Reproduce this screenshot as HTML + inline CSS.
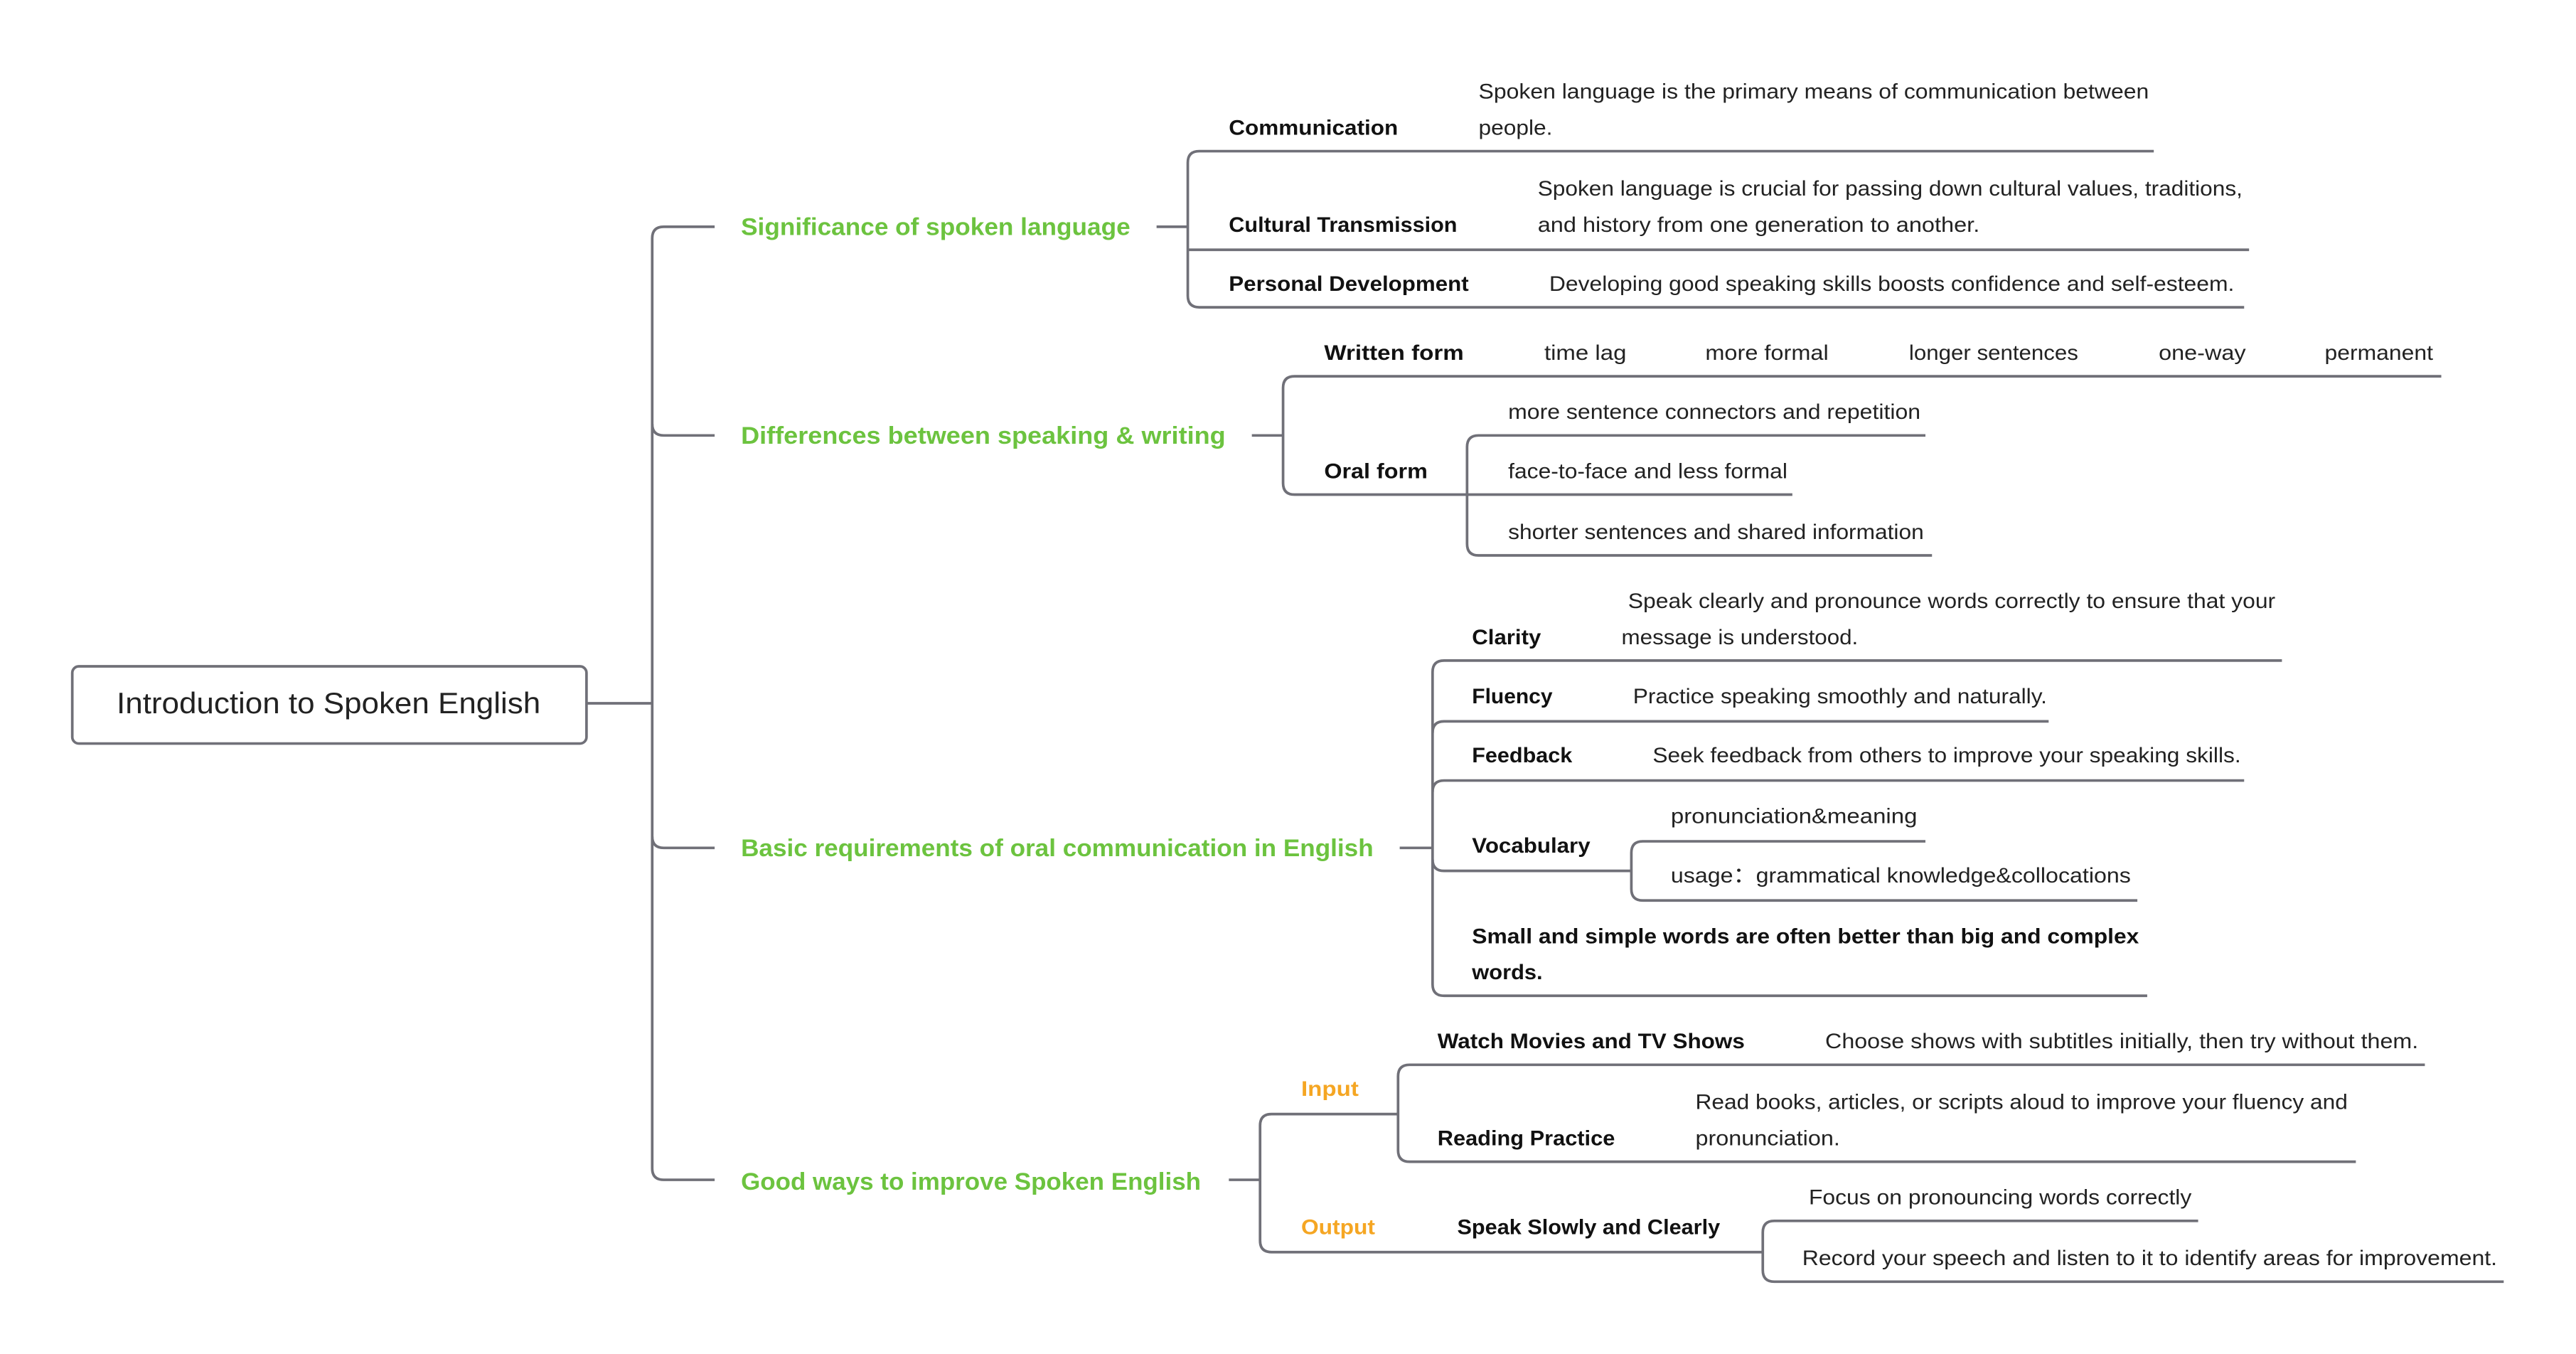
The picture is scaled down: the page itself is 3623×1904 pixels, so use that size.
<!DOCTYPE html>
<html><head><meta charset="utf-8">
<style>
html,body{margin:0;padding:0;background:#fff;}
svg{display:block;}
text{font-family:"Liberation Sans","Noto Sans CJK SC",sans-serif;font-size:13px;fill:#222;}
.b{font-weight:bold;fill:#111;}
.g{font-weight:bold;fill:#6cc33f;font-size:15px;}
.o{font-weight:bold;fill:#f5a623;}
path,line{stroke:#707078;stroke-width:1.6;fill:none;}
</style></head>
<body>
<svg width="3623" height="1904" viewBox="0 0 1568 824" preserveAspectRatio="none" xmlns="http://www.w3.org/2000/svg">
<rect x="44" y="405.5" width="313" height="47" rx="4" ry="4" style="fill:#fff;stroke:#707078;stroke-width:1.6"/>
<text x="71" y="434" textLength="258" lengthAdjust="spacingAndGlyphs" style="font-size:18px;fill:#222">Introduction to Spoken English</text>
<line x1="357" y1="428" x2="397" y2="428"/>
<path d="M435,138 L404,138 Q397,138 397,145 L397,711 Q397,718 404,718 L435,718"/>
<path d="M397,258 Q397,265 404,265 L435,265"/>
<path d="M397,509 Q397,516 404,516 L435,516"/>
<text class="g" x="451" y="143" textLength="237" lengthAdjust="spacingAndGlyphs">Significance of spoken language</text>
<text class="g" x="451" y="270" textLength="295" lengthAdjust="spacingAndGlyphs">Differences between speaking &amp; writing</text>
<text class="g" x="451" y="521" textLength="385" lengthAdjust="spacingAndGlyphs">Basic requirements of oral communication in English</text>
<text class="g" x="451" y="724" textLength="280" lengthAdjust="spacingAndGlyphs">Good ways to improve Spoken English</text>

<line x1="704" y1="138" x2="723" y2="138"/>
<path d="M1311,92 L730,92 Q723,92 723,99 L723,180 Q723,187 730,187 L1366,187"/>
<line x1="723" y1="152" x2="1369" y2="152"/>
<text class="b" x="748" y="82" textLength="103" lengthAdjust="spacingAndGlyphs">Communication</text>
<text x="900" y="60" textLength="408" lengthAdjust="spacingAndGlyphs">Spoken language is the primary means of communication between</text>
<text x="900" y="82" textLength="45" lengthAdjust="spacingAndGlyphs">people.</text>
<text class="b" x="748" y="141" textLength="139" lengthAdjust="spacingAndGlyphs">Cultural Transmission</text>
<text x="936" y="119" textLength="429" lengthAdjust="spacingAndGlyphs">Spoken language is crucial for passing down cultural values, traditions,</text>
<text x="936" y="141" textLength="269" lengthAdjust="spacingAndGlyphs">and history from one generation to another.</text>
<text class="b" x="748" y="177" textLength="146" lengthAdjust="spacingAndGlyphs">Personal Development</text>
<text x="943" y="177" textLength="417" lengthAdjust="spacingAndGlyphs">Developing good speaking skills boosts confidence and self-esteem.</text>

<line x1="762" y1="265" x2="781" y2="265"/>
<path d="M1486,229 L788,229 Q781,229 781,236 L781,294 Q781,301 788,301 L893,301"/>
<text class="b" x="806" y="219" textLength="85" lengthAdjust="spacingAndGlyphs">Written form</text>
<text x="940" y="219" textLength="50" lengthAdjust="spacingAndGlyphs">time lag</text>
<text x="1038" y="219" textLength="75" lengthAdjust="spacingAndGlyphs">more formal</text>
<text x="1162" y="219" textLength="103" lengthAdjust="spacingAndGlyphs">longer sentences</text>
<text x="1314" y="219" textLength="53" lengthAdjust="spacingAndGlyphs">one-way</text>
<text x="1415" y="219" textLength="66" lengthAdjust="spacingAndGlyphs">permanent</text>
<text class="b" x="806" y="291" textLength="63" lengthAdjust="spacingAndGlyphs">Oral form</text>
<path d="M1172,265 L900,265 Q893,265 893,272 L893,331 Q893,338 900,338 L1176,338"/>
<line x1="893" y1="301" x2="1091" y2="301"/>
<text x="918" y="255" textLength="251" lengthAdjust="spacingAndGlyphs">more sentence connectors and repetition</text>
<text x="918" y="291" textLength="170" lengthAdjust="spacingAndGlyphs">face-to-face and less formal</text>
<text x="918" y="328" textLength="253" lengthAdjust="spacingAndGlyphs">shorter sentences and shared information</text>

<line x1="852" y1="516" x2="872" y2="516"/>
<path d="M1389,402 L879,402 Q872,402 872,409 L872,599 Q872,606 879,606 L1307,606"/>
<path d="M872,446 Q872,439 879,439 L1247,439"/>
<path d="M872,482 Q872,475 879,475 L1366,475"/>
<path d="M872,523 Q872,530 879,530 L993,530"/>
<text class="b" x="896" y="392" textLength="42" lengthAdjust="spacingAndGlyphs">Clarity</text>
<text x="991" y="370" textLength="394" lengthAdjust="spacingAndGlyphs">Speak clearly and pronounce words correctly to ensure that your</text>
<text x="987" y="392" textLength="144" lengthAdjust="spacingAndGlyphs">message is understood.</text>
<text class="b" x="896" y="428" textLength="49" lengthAdjust="spacingAndGlyphs">Fluency</text>
<text x="994" y="428" textLength="252" lengthAdjust="spacingAndGlyphs">Practice speaking smoothly and naturally.</text>
<text class="b" x="896" y="464" textLength="61" lengthAdjust="spacingAndGlyphs">Feedback</text>
<text x="1006" y="464" textLength="358" lengthAdjust="spacingAndGlyphs">Seek feedback from others to improve your speaking skills.</text>
<text class="b" x="896" y="519" textLength="72" lengthAdjust="spacingAndGlyphs">Vocabulary</text>
<path d="M1172,512 L1000,512 Q993,512 993,519 L993,541 Q993,548 1000,548 L1301,548"/>
<text x="1017" y="501" textLength="150" lengthAdjust="spacingAndGlyphs">pronunciation&amp;meaning</text>
<text x="1017" y="537" textLength="280" lengthAdjust="spacingAndGlyphs">usage：grammatical knowledge&amp;collocations</text>
<text class="b" x="896" y="574" textLength="406" lengthAdjust="spacingAndGlyphs">Small and simple words are often better than big and complex</text>
<text class="b" x="896" y="596" textLength="43" lengthAdjust="spacingAndGlyphs">words.</text>

<line x1="748" y1="718" x2="767" y2="718"/>
<path d="M851,678 L774,678 Q767,678 767,685 L767,755 Q767,762 774,762 L1073,762"/>
<text class="o" x="792" y="667" textLength="35" lengthAdjust="spacingAndGlyphs">Input</text>
<text class="o" x="792" y="751" textLength="45" lengthAdjust="spacingAndGlyphs">Output</text>
<path d="M1476,648 L858,648 Q851,648 851,655 L851,700 Q851,707 858,707 L1434,707"/>
<text class="b" x="875" y="638" textLength="187" lengthAdjust="spacingAndGlyphs">Watch Movies and TV Shows</text>
<text x="1111" y="638" textLength="361" lengthAdjust="spacingAndGlyphs">Choose shows with subtitles initially, then try without them.</text>
<text class="b" x="875" y="697" textLength="108" lengthAdjust="spacingAndGlyphs">Reading Practice</text>
<text x="1032" y="675" textLength="397" lengthAdjust="spacingAndGlyphs">Read books, articles, or scripts aloud to improve your fluency and</text>
<text x="1032" y="697" textLength="88" lengthAdjust="spacingAndGlyphs">pronunciation.</text>
<text class="b" x="887" y="751" textLength="160" lengthAdjust="spacingAndGlyphs">Speak Slowly and Clearly</text>
<path d="M1338,743 L1080,743 Q1073,743 1073,750 L1073,773 Q1073,780 1080,780 L1524,780"/>
<text x="1101" y="733" textLength="233" lengthAdjust="spacingAndGlyphs">Focus on pronouncing words correctly</text>
<text x="1097" y="770" textLength="423" lengthAdjust="spacingAndGlyphs">Record your speech and listen to it to identify areas for improvement.</text>
</svg>
</body></html>
